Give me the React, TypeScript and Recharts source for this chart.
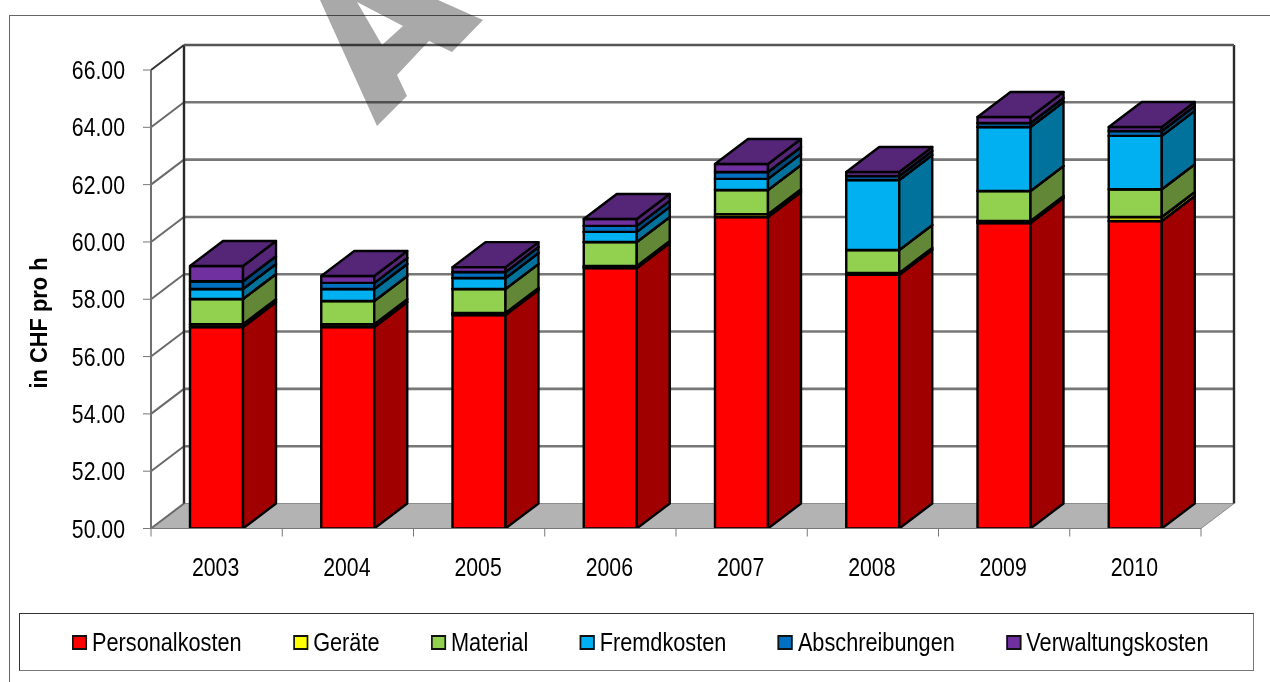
import React from "react";
import { Bar, BarChart, CartesianGrid, Legend, XAxis, YAxis } from "recharts";

const years = ["2003", "2004", "2005", "2006", "2007", "2008", "2009", "2010"];
const personalkosten = [57.03, 57.03, 57.45, 59.09, 60.87, 58.85, 60.66, 60.73];
const geraete = [0.1, 0.1, 0.07, 0.07, 0.1, 0.07, 0.07, 0.14];
const material = [0.88, 0.81, 0.84, 0.84, 0.84, 0.8, 1.05, 0.97];
const fremdkosten = [0.35, 0.42, 0.38, 0.35, 0.39, 2.44, 2.23, 1.86];
const abschreibungen = [0.27, 0.21, 0.21, 0.21, 0.24, 0.14, 0.14, 0.17];
const verwaltungskosten = [0.53, 0.24, 0.17, 0.24, 0.28, 0.14, 0.21, 0.14];
const yTicks = [50, 52, 54, 56, 58, 60, 62, 64, 66];

const data = years.map((year, i) => ({
  year,
  personalkosten: personalkosten[i],
  geraete: geraete[i],
  material: material[i],
  fremdkosten: fremdkosten[i],
  abschreibungen: abschreibungen[i],
  verwaltungskosten: verwaltungskosten[i],
}));

const series = [
  { key: "personalkosten", name: "Personalkosten", color: "#ff0000", side: "#a00000", top: "#a00000" },
  { key: "geraete", name: "Geräte", color: "#ffff00", side: "#a0a000", top: "#a0a000" },
  { key: "material", name: "Material", color: "#92d050", side: "#628736", top: "#628736" },
  { key: "fremdkosten", name: "Fremdkosten", color: "#00b0f0", side: "#00729c", top: "#00729c" },
  { key: "abschreibungen", name: "Abschreibungen", color: "#0070c0", side: "#00497d", top: "#00497d" },
  { key: "verwaltungskosten", name: "Verwaltungskosten", color: "#7030a0", side: "#552578", top: "#552578" },
];

const FONT = '"Liberation Sans", Arial, sans-serif';
const WIDTH = 1270;
const HEIGHT = 682;
const PLOT_TOP = 70;
const PLOT_BOTTOM = 528.5;
const PLOT_LEFT = 151;
const PLOT_RIGHT = 1201;
const BAND = (PLOT_RIGHT - PLOT_LEFT) / years.length;
const DX = 33;
const DY = -25;
const TEXT_SCALE = 0.85;
const LEGEND_SCALE = 0.835;

function Box3D(props: any) {
  const { x, y, width, height, fill, background, side, top } = props;
  const bottom = Math.min(y + height, background ? background.y + background.height : y + height);
  const right = x + width;
  return (
    <g stroke="#000" strokeWidth={2.4} strokeLinejoin="round">
      <polygon points={`${x},${y} ${right},${y} ${right},${bottom} ${x},${bottom}`} fill={fill} />
      <polygon
        points={`${right},${y} ${right + DX},${y + DY} ${right + DX},${bottom + DY} ${right},${bottom}`}
        fill={side}
      />
      <polygon
        points={`${x},${y} ${x + DX},${y + DY} ${right + DX},${y + DY} ${right},${y}`}
        fill={top}
      />
    </g>
  );
}

// back wall, side wall and floor are hung on the horizontal grid lines
function WallLine(props: any) {
  const { x1, x2, y1 } = props;
  const isFloor = Math.abs(y1 - PLOT_BOTTOM) < 1;
  const isTop = Math.abs(y1 - PLOT_TOP) < 1;
  return (
    <g>
      {isFloor && (
        <polygon
          points={`${x1},${y1} ${x1 + DX},${y1 + DY} ${x2 + DX},${y1 + DY} ${x2},${y1}`}
          fill="#b3b3b3"
          stroke="#8c8c8c"
          strokeWidth={1}
        />
      )}
      {isTop && (
        <g>
          <line x1={x1} y1={PLOT_TOP} x2={x1} y2={PLOT_BOTTOM} stroke="#6a6a6a" strokeWidth={2} />
          <line x1={x1 + DX} y1={PLOT_TOP + DY} x2={x1 + DX} y2={PLOT_BOTTOM + DY} stroke="#2a2a2a" strokeWidth={2.4} />
          <line x1={x2 + DX} y1={PLOT_TOP + DY} x2={x2 + DX} y2={PLOT_BOTTOM + DY} stroke="#2a2a2a" strokeWidth={2.4} />
        </g>
      )}
      <line x1={x1} y1={y1} x2={x1 + DX} y2={y1 + DY} stroke={isTop ? "#333" : "#6a6a6a"} strokeWidth={2} />
      {!isFloor && (
        <line x1={x1 + DX} y1={y1 + DY} x2={x2 + DX} y2={y1 + DY} stroke={isTop ? "#555" : "#777"} strokeWidth={2.6} />
      )}
    </g>
  );
}

// the reference text is condensed, and no narrow font is installed
function XTick({ x, y, payload, index }: any) {
  const left = x - BAND / 2;
  return (
    <g>
      <line x1={left} y1={y} x2={left} y2={y + 8} stroke="#777" />
      {index === years.length - 1 && <line x1={left + BAND} y1={y} x2={left + BAND} y2={y + 8} stroke="#777" />}
      <text
        transform={`translate(${x - 1},${y + 47}) scale(${TEXT_SCALE},1)`}
        textAnchor="middle"
        fontFamily={FONT}
        fontSize={25}
        fill="#000"
      >
        {payload.value}
      </text>
    </g>
  );
}

function YTick({ x, y, payload }: any) {
  return (
    <text
      transform={`translate(${x - 1},${y + 9}) scale(${TEXT_SCALE},1)`}
      textAnchor="end"
      fontFamily={FONT}
      fontSize={25}
      fill="#000"
    >
      {payload.value.toFixed(2)}
    </text>
  );
}

function YLabel() {
  return (
    <text
      transform="translate(47,323) rotate(-90) scale(0.95,1)"
      textAnchor="middle"
      fontFamily={FONT}
      fontSize={23}
      fontWeight="bold"
      fill="#000"
    >
      in CHF pro h
    </text>
  );
}

function LegendBox({ payload }: any) {
  return (
    <div
      style={{
        boxSizing: "border-box",
        width: 1235,
        height: 58,
        border: "1px solid #333",
        borderBottomColor: "#777",
        borderRightColor: "#777",
        background: "#fff",
        paddingLeft: 52,
        display: "flex",
        alignItems: "center",
      }}
    >
      <div
        style={{
          display: "flex",
          alignItems: "center",
          gap: 51.5 / LEGEND_SCALE,
          fontFamily: FONT,
          fontSize: 26,
          color: "#000",
          transform: `scaleX(${LEGEND_SCALE})`,
          transformOrigin: "left center",
        }}
      >
        {(payload || []).map((item: any) => (
          <div key={item.value} style={{ display: "flex", alignItems: "center", gap: 5 / LEGEND_SCALE }}>
            <span
              style={{
                display: "inline-block",
                boxSizing: "border-box",
                width: 15 / LEGEND_SCALE,
                height: 15,
                border: "2px solid #111",
                background: item.color,
              }}
            />
            <span style={{ whiteSpace: "nowrap" }}>{item.value}</span>
          </div>
        ))}
      </div>
    </div>
  );
}

export default function App() {
  return (
    <div style={{ position: "absolute", left: 0, top: 0, width: WIDTH, height: HEIGHT, overflow: "hidden", background: "#fff" }}>
      <div
        style={{
          position: "absolute",
          left: 9,
          top: 15,
          width: 1290,
          height: 700,
          border: "1px solid #666",
        }}
      />
      <BarChart
        width={WIDTH}
        height={HEIGHT}
        data={data}
        margin={{ top: PLOT_TOP, right: WIDTH - PLOT_RIGHT, bottom: 0, left: 0 }}
        style={{ position: "absolute", left: 0, top: 0 }}
      >
        <CartesianGrid vertical={false} horizontal={(p: any) => <WallLine key={p.key} {...p} />} />
        <XAxis
          dataKey="year"
          height={HEIGHT - PLOT_BOTTOM}
          stroke="#777"
          tickLine={false}
          tickSize={0}
          tickMargin={0}
          interval={0}
          tick={(p: any) => <XTick {...p} y={PLOT_BOTTOM} />}
        />
        <YAxis
          width={PLOT_LEFT}
          domain={[50, 66]}
          allowDataOverflow
          ticks={yTicks}
          interval={0}
          stroke="#777"
          tickSize={8}
          tickMargin={17}
          tick={(p: any) => <YTick {...p} />}
          label={{ content: () => <YLabel /> }}
        />
        <Legend
          layout="horizontal"
          align="center"
          verticalAlign="middle"
          itemSorter={null}
          wrapperStyle={{ left: 19, top: 613, width: 1235, height: 58 }}
          content={(p: any) => <LegendBox payload={p.payload} />}
        />
        {series.map((s) => (
          <Bar
            key={s.key}
            dataKey={s.key}
            name={s.name}
            stackId="costs"
            fill={s.color}
            barSize={53}
            isAnimationActive={false}
            shape={(p: any) => <Box3D {...p} side={s.side} top={s.top} />}
          />
        ))}
      </BarChart>
      <svg width={WIDTH} height={HEIGHT} style={{ position: "absolute", left: 0, top: 0, mixBlendMode: "multiply", pointerEvents: "none" }}>
        <path
          d="M320 0 L377 126 L407 96 L397 75 L429 41 L452 52 L483 20 L438 0 Z M357 2 L403 26 L382 45 Z"
          fill="#a9a9a9"
          fillRule="evenodd"
        />
      </svg>
    </div>
  );
}
